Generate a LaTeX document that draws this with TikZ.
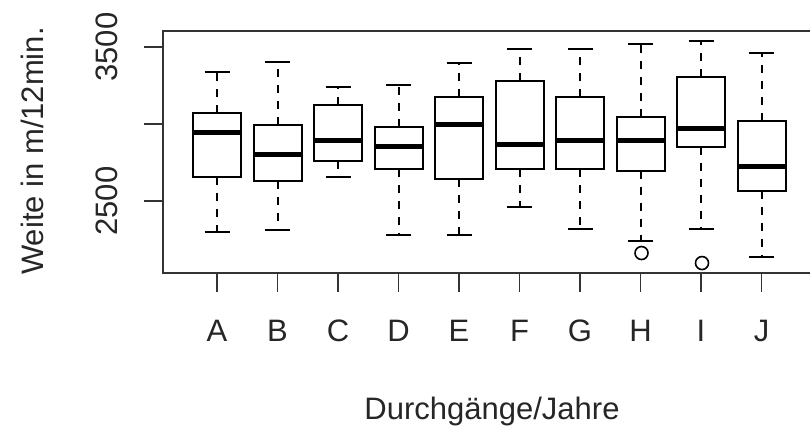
\documentclass[tikz,border=0pt]{standalone}
\usepackage{fontspec}
\setmainfont{Liberation Sans}
\begin{document}
\begin{tikzpicture}
  [x=1pt,y=1pt,
   every node/.style={font=\fontsize{31}{36}\selectfont,inner sep=0pt,text=black!85},
   boxline/.style={line width=2pt},
   whisker/.style={line width=2pt,dash pattern=on 8pt off 8pt},
   median/.style={line width=5pt},
   axisline/.style={line width=1.7pt,black!80},
   outlier/.style={circle,draw,line width=1.6pt,minimum size=13pt}]
  \useasboundingbox (0,0) rectangle (810,428);

  % plot frame, cut off on the right
  \begin{scope}
    \clip (0,0) rectangle (810,428);
    \draw[axisline] (163,155.3) rectangle (830,397);
  \end{scope}

  % y axis
  \foreach \v in {2500,3000,3500}
    \draw[axisline] (144,{304+(\v-3000)*0.154}) -- (163,{304+(\v-3000)*0.154});
  \node[rotate=90,anchor=base] (t2500) at (117.3,{304-500*0.154}) {2500};
  \node[rotate=90,anchor=base] (t3500) at (117.3,{304+500*0.154}) {3500};
  \node[rotate=90,anchor=base] (ylab) at (43,277) {Weite in m/12min.};

  % boxes
  \foreach \name/\lo/\qa/\md/\qb/\hi [count=\i from 0] in
    {A/2297/2658/2944/3071/3336, B/2310/2632/2799/2994/3401,
     C/2656/2762/2892/3123/3240, D/2281/2708/2853/2981/3253,
     E/2281/2643/2995/3175/3398, F/2461/2706/2866/3281/3487,
     G/2318/2706/2892/3175/3487, H/2242/2695/2892/3047/3518,
     I/2318/2853/2969/3305/3539, J/2136/2565/2725/3019/3463}
  {
    \pgfmathsetmacro\cx{217+60.5*\i}
    \begin{scope}[y=0.154pt,yshift=-158pt]
      \draw[whisker] (\cx,\qb) -- (\cx,\hi);
      \draw[whisker] (\cx,\qa) -- (\cx,\lo);
      \draw[boxline] (\cx-12.5,\hi) -- (\cx+12.5,\hi);
      \draw[boxline] (\cx-12.5,\lo) -- (\cx+12.5,\lo);
      \draw[boxline] (\cx-24,\qa) rectangle (\cx+24,\qb);
      \draw[median] (\cx-24,\md) -- (\cx+24,\md);
    \end{scope}
    \draw[axisline] (\cx,155.3) -- (\cx,136.3);
    \node[anchor=base] (lab\name) at (\cx,86.3) {\name};
  }

  % outliers
  \begin{scope}[y=0.154pt,yshift=-158pt]
    \node[outlier] (outH) at (641.5,2162) {};
    \node[outlier] (outI) at (702,2097) {};
  \end{scope}

  \node[anchor=base] (xlab) at (492,9) {Durchgänge/Jahre};
\end{tikzpicture}
\end{document}
